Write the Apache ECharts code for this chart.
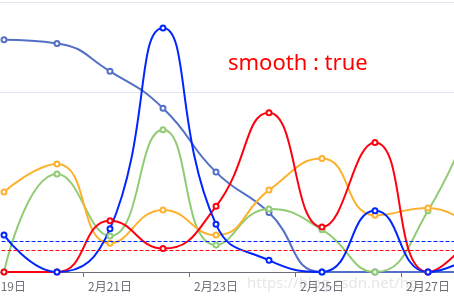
<!DOCTYPE html>
<html>
<head>
<meta charset="utf-8">
<script src="https://cdn.jsdelivr.net/npm/echarts@6/dist/echarts.min.js"></script>
<style>
  html, body { margin: 0; padding: 0; background: #fff; }
  #chart { width: 454px; height: 300px; }
</style>
</head>
<body>
<div id="chart"></div>
<script>
// 横轴日期
const days = ['2月19日', '2月20日', '2月21日', '2月22日', '2月23日', '2月24日', '2月25日', '2月26日', '2月27日', '2月28日']

// 各条线的数据
const slateData  = [258, 254, 223, 182, 111, 66, 0, 0, 0, 0]
const greenData  = [0, 109, 40, 158, 30, 70, 47, 0, 68, 197]
const orangeData = [89, 120, 32, 69, 41, 91, 126, 63, 71, 41]
const redData    = [0, 0, 57, 26, 73, 177, 50, 144, 0, 52]
const blueData   = [41, 0, 48, 271, 53, 13, 0, 68, 0, 24]

// 虚线标记的位置
const blueMark = 34
const redMark = 24

const lines = [
  { name: 'a', color: '#5470c6', data: slateData },
  { name: 'b', color: '#91cc75', data: greenData },
  { name: 'c', color: '#fdb12e', data: orangeData },
  { name: 'd', color: '#ff0010', data: redData, mark: redMark },
  { name: 'e', color: '#0026ff', data: blueData, mark: blueMark }
]

const option = {
  backgroundColor: '#fff',
  animation: false,
  title: {
    text: 'smooth : true',
    left: 228,
    top: 53,
    padding: 0,
    textStyle: {
      color: '#ff0000',
      fontSize: 22,
      fontWeight: 'normal',
      fontFamily: 'Noto Sans'
    }
  },
  graphic: [{
    type: 'text',
    left: 247,
    top: 276,
    silent: true,
    style: {
      text: 'https://blog.csdn.net/hp',
      fill: 'rgba(200,200,200,0.45)',
      font: '15px Noto Sans'
    }
  }],
  grid: {
    outerBoundsMode: 'none',
    containLabel: false,
    left: -22.5,
    width: 530,
    top: 2,
    bottom: 28
  },
  xAxis: {
    type: 'category',
    data: days,
    boundaryGap: true,
    axisLine: { lineStyle: { color: '#6e7079' } },
    axisTick: { show: true },
    axisLabel: {
      interval: 1,
      color: '#6e7079',
      fontSize: 12,
      fontFamily: 'Noto Sans CJK SC'
    }
  },
  yAxis: {
    type: 'value',
    min: 0,
    max: 300,
    interval: 200,
    axisLabel: { show: false },
    splitLine: { lineStyle: { color: '#e0e6f1' } }
  },
  series: lines.map(item => ({
    name: item.name,
    type: 'line',
    smooth: true,
    symbol: 'emptyCircle',
    symbolSize: 5,
    color: item.color,
    lineStyle: { width: 2, color: item.color },
    data: item.data,
    markLine: item.mark === undefined ? undefined : {
      silent: true,
      symbol: 'none',
      label: { show: false },
      lineStyle: { type: 'dashed', width: 1, color: item.color },
      data: [{ yAxis: item.mark }]
    }
  }))
}

const chart = echarts.init(document.getElementById('chart'))
chart.setOption(option)
</script>
</body>
</html>
